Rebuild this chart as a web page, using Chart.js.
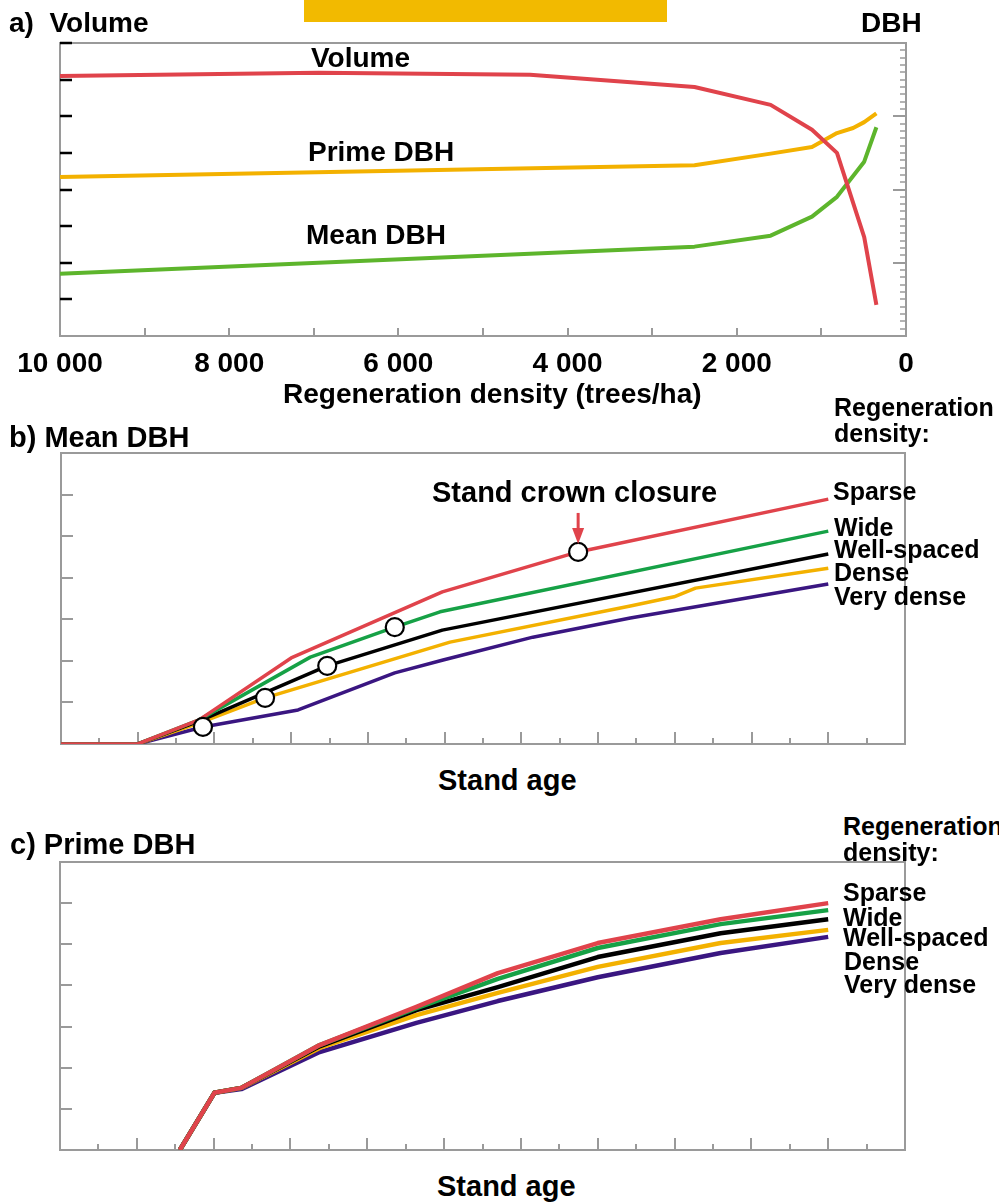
<!DOCTYPE html>
<html lang="en">
<head>
<meta charset="UTF-8">
<title>Regeneration density, volume and DBH</title>
<script src="https://cdn.jsdelivr.net/npm/chart.js@4.4.1/dist/chart.umd.min.js"></script>
<style>
  html, body { margin: 0; padding: 0; background: #fff; overflow: hidden; }
  body { position: relative; width: 999px; height: 1203px; font-family: "Liberation Sans", Arial, Helvetica, sans-serif; }
  canvas { position: absolute; left: 0; }
  .txt { position: absolute; font-weight: bold; line-height: 1; white-space: pre; color: #000; }
  #banner { position: absolute; left: 304px; top: 0; width: 363px; height: 22px; background: #F2BA00; }
</style>
</head>
<body>
<div id="banner"></div>
<canvas id="chartA" width="999" height="420" style="top:0px"></canvas>
<canvas id="chartB" width="999" height="320" style="top:440px"></canvas>
<canvas id="chartC" width="999" height="320" style="top:850px"></canvas>
<script>
// ---- a) regeneration density (trees/ha) -> volume (left axis) and DBH (right axis)
var volDensity   = [10000, 6944, 4444, 2500, 1600, 1111, 816, 494, 350]
var volume       = [7.10, 7.19, 7.13, 6.80, 6.31, 5.63, 5.00, 2.70, 0.85]
var primeDensity = [10000, 2500, 1600, 1111, 816, 625, 494, 350]
var primeDbh     = [21.7, 23.3, 24.9, 25.8, 27.7, 28.4, 29.2, 30.4]
var meanDensity  = [10000, 2500, 1600, 1111, 816, 494, 350]
var meanDbh      = [8.5, 12.2, 13.7, 16.3, 19.0, 23.8, 28.5]
var densityLabels = [10000, 8000, 6000, 4000, 2000, 0]
var densityMarks  = [1000, 2000, 3000, 4000, 5000, 6000, 7000, 8000, 9000]
var volumeMarks   = [1, 2, 3, 4, 5, 6, 7, 8]
var dbhMajor      = [10, 20, 30]
var dbhMinor = []
for (var i = 1; i < 40; i++) { if (i % 10 != 0) dbhMinor.push(i) }

// ---- b) mean DBH by stand age, one line per regeneration density
var sparseAgeB = [0, 10, 18, 30, 49.7, 67.4, 100]
var sparseB    = [0, 0, 0.58, 2.07, 3.66, 4.62, 5.89]
var wideAgeB   = [0, 10, 18, 32.5, 43.5, 49.4, 100]
var wideB      = [0, 0, 0.58, 2.09, 2.81, 3.18, 5.12]
var wellAgeB   = [0, 10, 18, 34.7, 49.7, 100]
var wellB      = [0, 0, 0.55, 1.88, 2.74, 4.57]
var denseAgeB  = [0, 10, 18, 26.6, 50.7, 74.2, 79.9, 82.7, 100]
var denseB     = [0, 0, 0.50, 1.11, 2.45, 3.32, 3.54, 3.75, 4.23]
var veryAgeB   = [0, 10, 18.5, 30.9, 43.5, 49.8, 61.5, 74.2, 100]
var veryB      = [0, 0, 0.41, 0.82, 1.71, 2.02, 2.57, 3.03, 3.85]
// stand crown closure points (very dense .. sparse)
var closureAge = [18.5, 26.6, 34.7, 43.5, 67.4]
var closureDbh = [0.41, 1.11, 1.88, 2.81, 4.62]

// ---- c) prime DBH by stand age
var ageC    = [15.6, 20.1, 23.6, 33.8, 46.4, 57, 70, 86, 100]
var sparseC = [0, 1.39, 1.51, 2.55, 3.48, 4.30, 5.03, 5.61, 6.00]
var wideC   = [0, 1.39, 1.51, 2.55, 3.45, 4.16, 4.91, 5.49, 5.83]
var wellC   = [0, 1.39, 1.51, 2.52, 3.40, 3.96, 4.69, 5.27, 5.61]
var denseC  = [0, 1.39, 1.51, 2.48, 3.28, 3.82, 4.45, 5.03, 5.35]
var veryC   = [0, 1.39, 1.48, 2.38, 3.09, 3.62, 4.20, 4.79, 5.18]

var ageMajor = [10, 20, 30, 40, 50, 60, 70, 80, 90, 100]
var ageMinor = [5, 15, 25, 35, 45, 55, 65, 75, 85, 95, 105]
var dbhMarks = [1, 2, 3, 4, 5, 6]

var RED = '#E0434B', ORANGE = '#F3B100', GREEN_A = '#5DB52C', GREEN = '#16A146', PURPLE = '#3A1681', GRAY = '#9a9a9a'
var FONT = '"Liberation Sans", Arial, Helvetica, sans-serif'
Chart.defaults.font.family = FONT

function pts(xs, ys) { return xs.map(function (x, i) { return { x: x, y: ys[i] } }) }
function fmt(v) { return String(v).replace(/\B(?=(\d{3})+(?!\d))/g, ' ') }

// tick marks drawn inward from the frame
function innerTicks(marks) {
    return {
        id: 'innerTicks',
        beforeDatasetsDraw(chart) {
            var ctx = chart.ctx, a = chart.chartArea
            ctx.save()
            marks.forEach(function (m) {
                var s = chart.scales[m.scale]
                ctx.strokeStyle = m.color
                ctx.lineWidth = m.width
                ctx.beginPath()
                m.values.forEach(function (v) {
                    var p = Math.round(s.getPixelForValue(v))
                    if (s.isHorizontal()) { ctx.moveTo(p, a.bottom); ctx.lineTo(p, a.bottom - m.len) }
                    else if (s.position == 'left') { ctx.moveTo(a.left, p); ctx.lineTo(a.left + m.len, p) }
                    else { ctx.moveTo(a.right, p); ctx.lineTo(a.right - m.len, p) }
                })
                ctx.stroke()
            })
            ctx.restore()
        }
    }
}

// red arrow above the sparse crown closure point
var closureArrow = {
    id: 'closureArrow',
    afterDatasetsDraw(chart) {
        var pt = chart.getDatasetMeta(0).data[closureAge.length - 1]
        var ctx = chart.ctx
        ctx.save()
        ctx.strokeStyle = RED
        ctx.fillStyle = RED
        ctx.lineWidth = 3
        ctx.beginPath(); ctx.moveTo(pt.x, pt.y - 39); ctx.lineTo(pt.x, pt.y - 22); ctx.stroke()
        ctx.beginPath(); ctx.moveTo(pt.x - 6, pt.y - 24); ctx.lineTo(pt.x + 6, pt.y - 24); ctx.lineTo(pt.x, pt.y - 8); ctx.closePath(); ctx.fill()
        ctx.restore()
    }
}

function frameAxis(pos, size) {
    var horiz = pos == 'top' || pos == 'bottom'
    return {
        type: 'linear', position: pos, display: true,
        grid: { display: false, drawTicks: false },
        ticks: { display: false },
        border: { color: GRAY, width: 2 },
        afterFit: function (s) { if (horiz) s.height = size; else s.width = size }
    }
}

function baseOptions(pad, scales) {
    return {
        responsive: false, animation: false,
        layout: { padding: pad },
        plugins: { legend: { display: false }, tooltip: { enabled: false } },
        elements: { point: { radius: 0 }, line: { tension: 0, borderCapStyle: 'butt', borderJoinStyle: 'round' } },
        scales: scales
    }
}

// ---------- chart a
var xA = frameAxis('bottom', 84)
xA.min = 0; xA.max = 10000; xA.reverse = true
xA.ticks = { display: true, color: '#000', padding: 11, maxRotation: 0, autoSkip: false,
    font: { size: 28, weight: 'bold' }, callback: function (v) { return fmt(v) } }
xA.afterBuildTicks = function (s) { s.ticks = densityLabels.map(function (v) { return { value: v } }) }
var yA = frameAxis('left', 0); yA.min = 0; yA.max = 8
var y1A = frameAxis('right', 0); y1A.min = 0; y1A.max = 40

new Chart(document.getElementById('chartA'), {
    type: 'line',
    data: {
        datasets: [
            { label: 'Volume', data: pts(volDensity, volume), yAxisID: 'y', borderColor: RED, borderWidth: 4 },
            { label: 'Prime DBH', data: pts(primeDensity, primeDbh), yAxisID: 'y1', borderColor: ORANGE, borderWidth: 4 },
            { label: 'Mean DBH', data: pts(meanDensity, meanDbh), yAxisID: 'y1', borderColor: GREEN_A, borderWidth: 4 }
        ]
    },
    options: baseOptions({ left: 60, right: 93, top: 43, bottom: 0 },
        { x: xA, xTop: frameAxis('top', 0), y: yA, y1: y1A }),
    plugins: [innerTicks([
        { scale: 'x', values: densityMarks, len: 8, color: GRAY, width: 2 },
        { scale: 'y', values: volumeMarks, len: 12, color: '#000', width: 2.5 },
        { scale: 'y1', values: dbhMajor, len: 13, color: GRAY, width: 2 },
        { scale: 'y1', values: dbhMinor, len: 6, color: GRAY, width: 1.5 }
    ])]
})

// ---------- charts b and c share the stand-age frame
function ageScales() {
    var x = frameAxis('bottom', 0); x.min = 0; x.max = 110
    var y = frameAxis('left', 0); y.min = 0; y.max = 7
    return { x: x, xTop: frameAxis('top', 0), y: y, yRight: frameAxis('right', 0) }
}
var ageTicks = [
    { scale: 'x', values: ageMajor, len: 12, color: GRAY, width: 2 },
    { scale: 'x', values: ageMinor, len: 6, color: GRAY, width: 2 },
    { scale: 'y', values: dbhMarks, len: 12, color: GRAY, width: 2 }
]

new Chart(document.getElementById('chartB'), {
    type: 'line',
    data: {
        datasets: [
            { label: 'Stand crown closure', data: pts(closureAge, closureDbh), showLine: false,
              pointRadius: 9, pointBackgroundColor: '#fff', pointBorderColor: '#000', pointBorderWidth: 2.2 },
            { label: 'Sparse', data: pts(sparseAgeB, sparseB), borderColor: RED, borderWidth: 3.5 },
            { label: 'Wide', data: pts(wideAgeB, wideB), borderColor: GREEN, borderWidth: 3.5 },
            { label: 'Well-spaced', data: pts(wellAgeB, wellB), borderColor: '#000', borderWidth: 3.5 },
            { label: 'Dense', data: pts(denseAgeB, denseB), borderColor: ORANGE, borderWidth: 3.5 },
            { label: 'Very dense', data: pts(veryAgeB, veryB), borderColor: PURPLE, borderWidth: 3.5 }
        ]
    },
    options: baseOptions({ left: 61, right: 94, top: 13, bottom: 16 }, ageScales()),
    plugins: [innerTicks(ageTicks), closureArrow]
})

new Chart(document.getElementById('chartC'), {
    type: 'line',
    data: {
        datasets: [
            { label: 'Sparse', data: pts(ageC, sparseC), borderColor: RED, borderWidth: 4.5 },
            { label: 'Wide', data: pts(ageC, wideC), borderColor: GREEN, borderWidth: 4.5 },
            { label: 'Well-spaced', data: pts(ageC, wellC), borderColor: '#000', borderWidth: 4.5 },
            { label: 'Dense', data: pts(ageC, denseC), borderColor: ORANGE, borderWidth: 4.5 },
            { label: 'Very dense', data: pts(ageC, veryC), borderColor: PURPLE, borderWidth: 4.5 }
        ]
    },
    options: baseOptions({ left: 60, right: 94, top: 12, bottom: 20 }, ageScales()),
    plugins: [innerTicks(ageTicks)]
})

// ---------- text: [text, left, baseline, size]
var texts = [
    ['a)  Volume', 9, 33, 28],
    ['DBH', 861, 33, 28],
    ['Volume', 311, 68, 28],
    ['Prime DBH', 308, 162, 28],
    ['Mean DBH', 306, 245, 28],
    ['Regeneration density (trees/ha)', 283, 404, 28],
    ['b) Mean DBH', 9, 447, 29],
    ['Regeneration', 834, 416, 25],
    ['density:', 834, 442, 25],
    ['Stand crown closure', 432, 502, 29],
    ['Sparse', 833, 500, 25],
    ['Wide', 834, 536, 25],
    ['Well-spaced', 834, 558, 25],
    ['Dense', 834, 581, 25],
    ['Very dense', 834, 605, 25],
    ['Stand age', 438, 790, 29],
    ['c) Prime DBH', 10, 854, 29],
    ['Regeneration', 843, 835, 25],
    ['density:', 843, 861, 25],
    ['Sparse', 843, 901, 25],
    ['Wide', 843, 926, 25],
    ['Well-spaced', 843, 946, 25],
    ['Dense', 844, 970, 25],
    ['Very dense', 844, 993, 25],
    ['Stand age', 437, 1196, 29]
]
texts.forEach(function (t) {
    var d = document.createElement('div')
    d.className = 'txt'
    d.textContent = t[0]
    d.style.left = t[1] + 'px'
    d.style.top = (t[2] - 0.8465 * t[3]).toFixed(1) + 'px'
    d.style.fontSize = t[3] + 'px'
    document.body.appendChild(d)
})
</script>
</body>
</html>
